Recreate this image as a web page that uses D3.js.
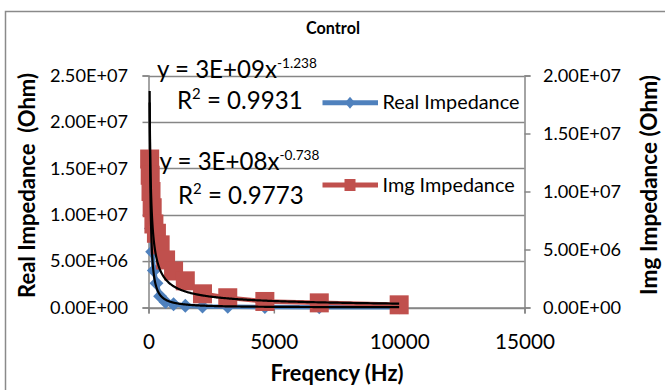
<!DOCTYPE html>
<html lang="en">
<head>
  <meta charset="UTF-8">
  <title>Control</title>
  <style>
    body { margin: 0; background: #fff; }
    text { font-family: Lato, "Open Sans", sans-serif; }
  </style>
</head>
<body>
  <script src="https://d3js.org/d3.v7.min.js"></script>
  <div id="chart"></div>
  <script>
    // frequency sweep (Hz)
    let freq = [46.42, 68.13, 100, 146.8, 215.4, 316.2, 464.2, 681.3, 1000, 1468, 2154, 3162, 4642, 6813, 10000];
    // real impedance (Ohm), primary axis
    let realImp = [1.45e7, 1.14e7, 8.5e6, 6.0e6, 4.0e6, 2.6e6, 1.2e6, 6e5, 3.5e5, 2e5, 1.2e5, 7e4, 5e4, 3e4, 2e4];
    // imaginary impedance (Ohm), secondary axis
    let imgImp = [1.28e7, 1.14e7, 1.0e7, 8.6e6, 7.2e6, 6.4e6, 5.4e6, 4.1e6, 3.15e6, 2.3e6, 1.18e6, 8.4e5, 5.2e5, 4.0e5, 2.3e5];

    // power trendlines y = a * x^b
    let realFit = { a: 2.7e9, b: -1.238, label: "3E+09", exp: "-1.238", r2: "0.9931" };
    let imgFit = { a: 3e8, b: -0.738, label: "3E+08", exp: "-0.738", r2: "0.9773" };

    let xTicks = [0, 5000, 10000, 15000];
    let yLeftTicks = [0, 5e6, 1e7, 1.5e7, 2e7, 2.5e7];
    let yRightTicks = [0, 5e6, 1e7, 1.5e7, 2e7];
    let legendKeys = ["Real Impedance", "Img Impedance"];

    let blue = "#4f81bd", red = "#c0504d", axisGrey = "#868686";

    function translate(x, y) { return 'translate(' + x + ',' + y + ')'; }

    function sci(v) {
      if (v === 0) return "0.00E+00";
      let e = Math.floor(Math.log10(v));
      let m = v / Math.pow(10, e);
      return m.toFixed(2) + "E" + (e < 0 ? "-" : "+") + String(Math.abs(e)).padStart(2, "0");
    }

    // scale a text's font so that it comes out w pixels wide, returns the size
    function fit(sel, w) {
      let s = parseFloat(sel.style("font-size"));
      let size = s * w / sel.node().getComputedTextLength();
      sel.style("font-size", size + "px");
      return size;
    }

    let width = 665, height = 390;
    let plot = { left: 148.5, right: 524.5, top: 75.5, bottom: 307.5 };

    let svg = d3.select("#chart").append("svg")
      .attr("width", width)
      .attr("height", height);

    // outer chart border
    svg.append("rect")
      .attr("x", 5.5).attr("y", 11.5)
      .attr("width", 700).attr("height", 400)
      .attr("fill", "none")
      .attr("stroke", "#8a8a8a")
      .attr("stroke-width", 1.5);

    let x = d3.scaleLinear().domain([0, 15000]).range([plot.left, plot.right]);
    let yL = d3.scaleLinear().domain([0, 2.5e7]).range([plot.bottom, plot.top]);
    let yR = d3.scaleLinear().domain([0, 2e7]).range([plot.bottom, plot.top]);

    // gridlines
    svg.append("g").selectAll("line")
      .data(yLeftTicks)
      .join("line")
        .attr("x1", plot.left).attr("x2", plot.right)
        .attr("y1", d => Math.round(yL(d)) + 0.5)
        .attr("y2", d => Math.round(yL(d)) + 0.5)
        .attr("stroke", axisGrey)
        .attr("stroke-width", 1.3);

    // axes
    let gL = svg.append("g")
      .attr("transform", translate(plot.left, 0))
      .call(d3.axisLeft(yL).tickValues(yLeftTicks).tickFormat(sci).tickSize(6).tickPadding(14.5));
    let gR = svg.append("g")
      .attr("transform", translate(plot.right, 0))
      .call(d3.axisRight(yR).tickValues(yRightTicks).tickFormat(sci).tickSize(6).tickPadding(12.5));
    let gX = svg.append("g")
      .attr("transform", translate(0, plot.bottom))
      .call(d3.axisBottom(x).tickValues(xTicks).tickFormat(d3.format("d")).tickSize(6).tickPadding(21));

    [gL, gR, gX].forEach(g => {
      g.selectAll(".domain").attr("stroke", axisGrey).attr("stroke-width", 1.5);
      g.selectAll(".tick line").attr("stroke", axisGrey).attr("stroke-width", 1.5);
      g.selectAll("text").attr("fill", "#000").style("font-family", "Lato, sans-serif").style("font-size", "15px");
    });
    let ySize = fit(gL.select(".tick:last-of-type text"), 78);
    gL.selectAll("text").style("font-size", ySize + "px");
    gR.selectAll("text").style("font-size", ySize + "px");
    let xSize = fit(gX.selectAll("text").filter(d => d === 10000), 60);
    gX.selectAll("text").style("font-size", xSize + "px");

    // series: real impedance
    let pts = freq.map((f, i) => ({ f: f, re: realImp[i], im: imgImp[i] }));

    svg.append("path")
      .datum(pts)
      .attr("fill", "none")
      .attr("stroke", blue)
      .attr("stroke-width", 4.5)
      .attr("d", d3.line().x(d => x(d.f)).y(d => yL(d.re)));

    svg.append("g").selectAll("path")
      .data(pts)
      .join("path")
        .attr("transform", d => translate(x(d.f), yL(d.re)))
        .attr("d", "M0,-7L7,0L0,7L-7,0Z")
        .attr("fill", blue);

    // series: img impedance (secondary axis)
    svg.append("path")
      .datum(pts)
      .attr("fill", "none")
      .attr("stroke", red)
      .attr("stroke-width", 4.5)
      .attr("d", d3.line().x(d => x(d.f)).y(d => yR(d.im)));

    svg.append("g").selectAll("rect")
      .data(pts)
      .join("rect")
        .attr("x", d => x(d.f) - 9.5)
        .attr("y", d => yR(d.im) - 9.5)
        .attr("width", 19).attr("height", 19)
        .attr("fill", red);

    // trendlines
    let fx = d3.range(0, 400).map(i => freq[0] * Math.pow(freq[freq.length - 1] / freq[0], i / 399));

    svg.append("path")
      .datum(fx)
      .attr("fill", "none")
      .attr("stroke", "#000")
      .attr("stroke-width", 2.2)
      .attr("d", d3.line().x(d => x(d)).y(d => yL(realFit.a * Math.pow(d, realFit.b))));

    svg.append("path")
      .datum(fx)
      .attr("fill", "none")
      .attr("stroke", "#000")
      .attr("stroke-width", 2.2)
      .attr("d", d3.line().x(d => x(d)).y(d => yR(imgFit.a * Math.pow(d, imgFit.b))));

    // trendline labels
    function fitLabel(fit_, x0, y0, x1, y1) {
      let main = svg.append("text")
        .attr("x", x0).attr("y", y0)
        .style("font-size", "20px")
        .text("y = " + fit_.label + "x");
      let size = fit(main, 120);
      let sup = svg.append("text")
        .attr("x", x0 + 120).attr("y", y0 - 0.4 * size)
        .style("font-size", "14px")
        .text(fit_.exp);
      fit(sup, 40);
      let r = svg.append("text")
        .attr("x", x1).attr("y", y1)
        .style("font-size", size + "px");
      r.append("tspan").text("R");
      r.append("tspan").attr("dy", -0.4 * size).style("font-size", (0.62 * size) + "px").text("2");
      r.append("tspan").attr("dy", 0.4 * size).text(" = " + fit_.r2);
    }
    fitLabel(realFit, 157, 78, 177, 109);
    fitLabel(imgFit, 159.5, 170, 178, 204);

    // legend
    let legendY = [102.7, 185];
    let lg = svg.append("g");
    lg.append("line")
      .attr("x1", 322.5).attr("x2", 378).attr("y1", legendY[0]).attr("y2", legendY[0])
      .attr("stroke", blue).attr("stroke-width", 5);
    lg.append("path")
      .attr("transform", translate(350, legendY[0]))
      .attr("d", "M0,-6L5,0L0,6L-5,0Z")
      .attr("fill", blue);
    lg.append("line")
      .attr("x1", 322.5).attr("x2", 378).attr("y1", legendY[1]).attr("y2", legendY[1])
      .attr("stroke", red).attr("stroke-width", 5);
    lg.append("rect")
      .attr("x", 344.5).attr("y", legendY[1] - 6)
      .attr("width", 11).attr("height", 12)
      .attr("fill", red);
    let lt = legendKeys.map((k, i) => lg.append("text")
      .attr("x", 382.5).attr("y", legendY[i] + 6.5)
      .style("font-size", "16px")
      .text(k));
    let lSize = fit(lt[0], 137);
    lt[1].style("font-size", lSize + "px");

    // titles
    let title = svg.append("text")
      .attr("x", 333).attr("y", 34)
      .attr("text-anchor", "middle")
      .style("font-size", "15px").style("font-weight", "bold")
      .text("Control");
    fit(title, 54);

    let xTitle = svg.append("text")
      .attr("x", 337).attr("y", 381)
      .attr("text-anchor", "middle")
      .style("font-size", "17px").style("font-weight", "bold")
      .text("Freqency (Hz)");
    fit(xTitle, 133);

    let yTitle = svg.append("text")
      .attr("transform", translate(35, 185.5) + " rotate(-90)")
      .attr("text-anchor", "middle")
      .style("font-size", "17px").style("font-weight", "bold")
      .style("white-space", "pre")
      .text("Real Impedance  (Ohm)");
    fit(yTitle, 225);

    let y2Title = svg.append("text")
      .attr("transform", translate(657, 185) + " rotate(-90)")
      .attr("text-anchor", "middle")
      .style("font-size", "17px").style("font-weight", "bold")
      .text("Img Impedance (Ohm)");
    fit(y2Title, 220);
  </script>
</body>
</html>
